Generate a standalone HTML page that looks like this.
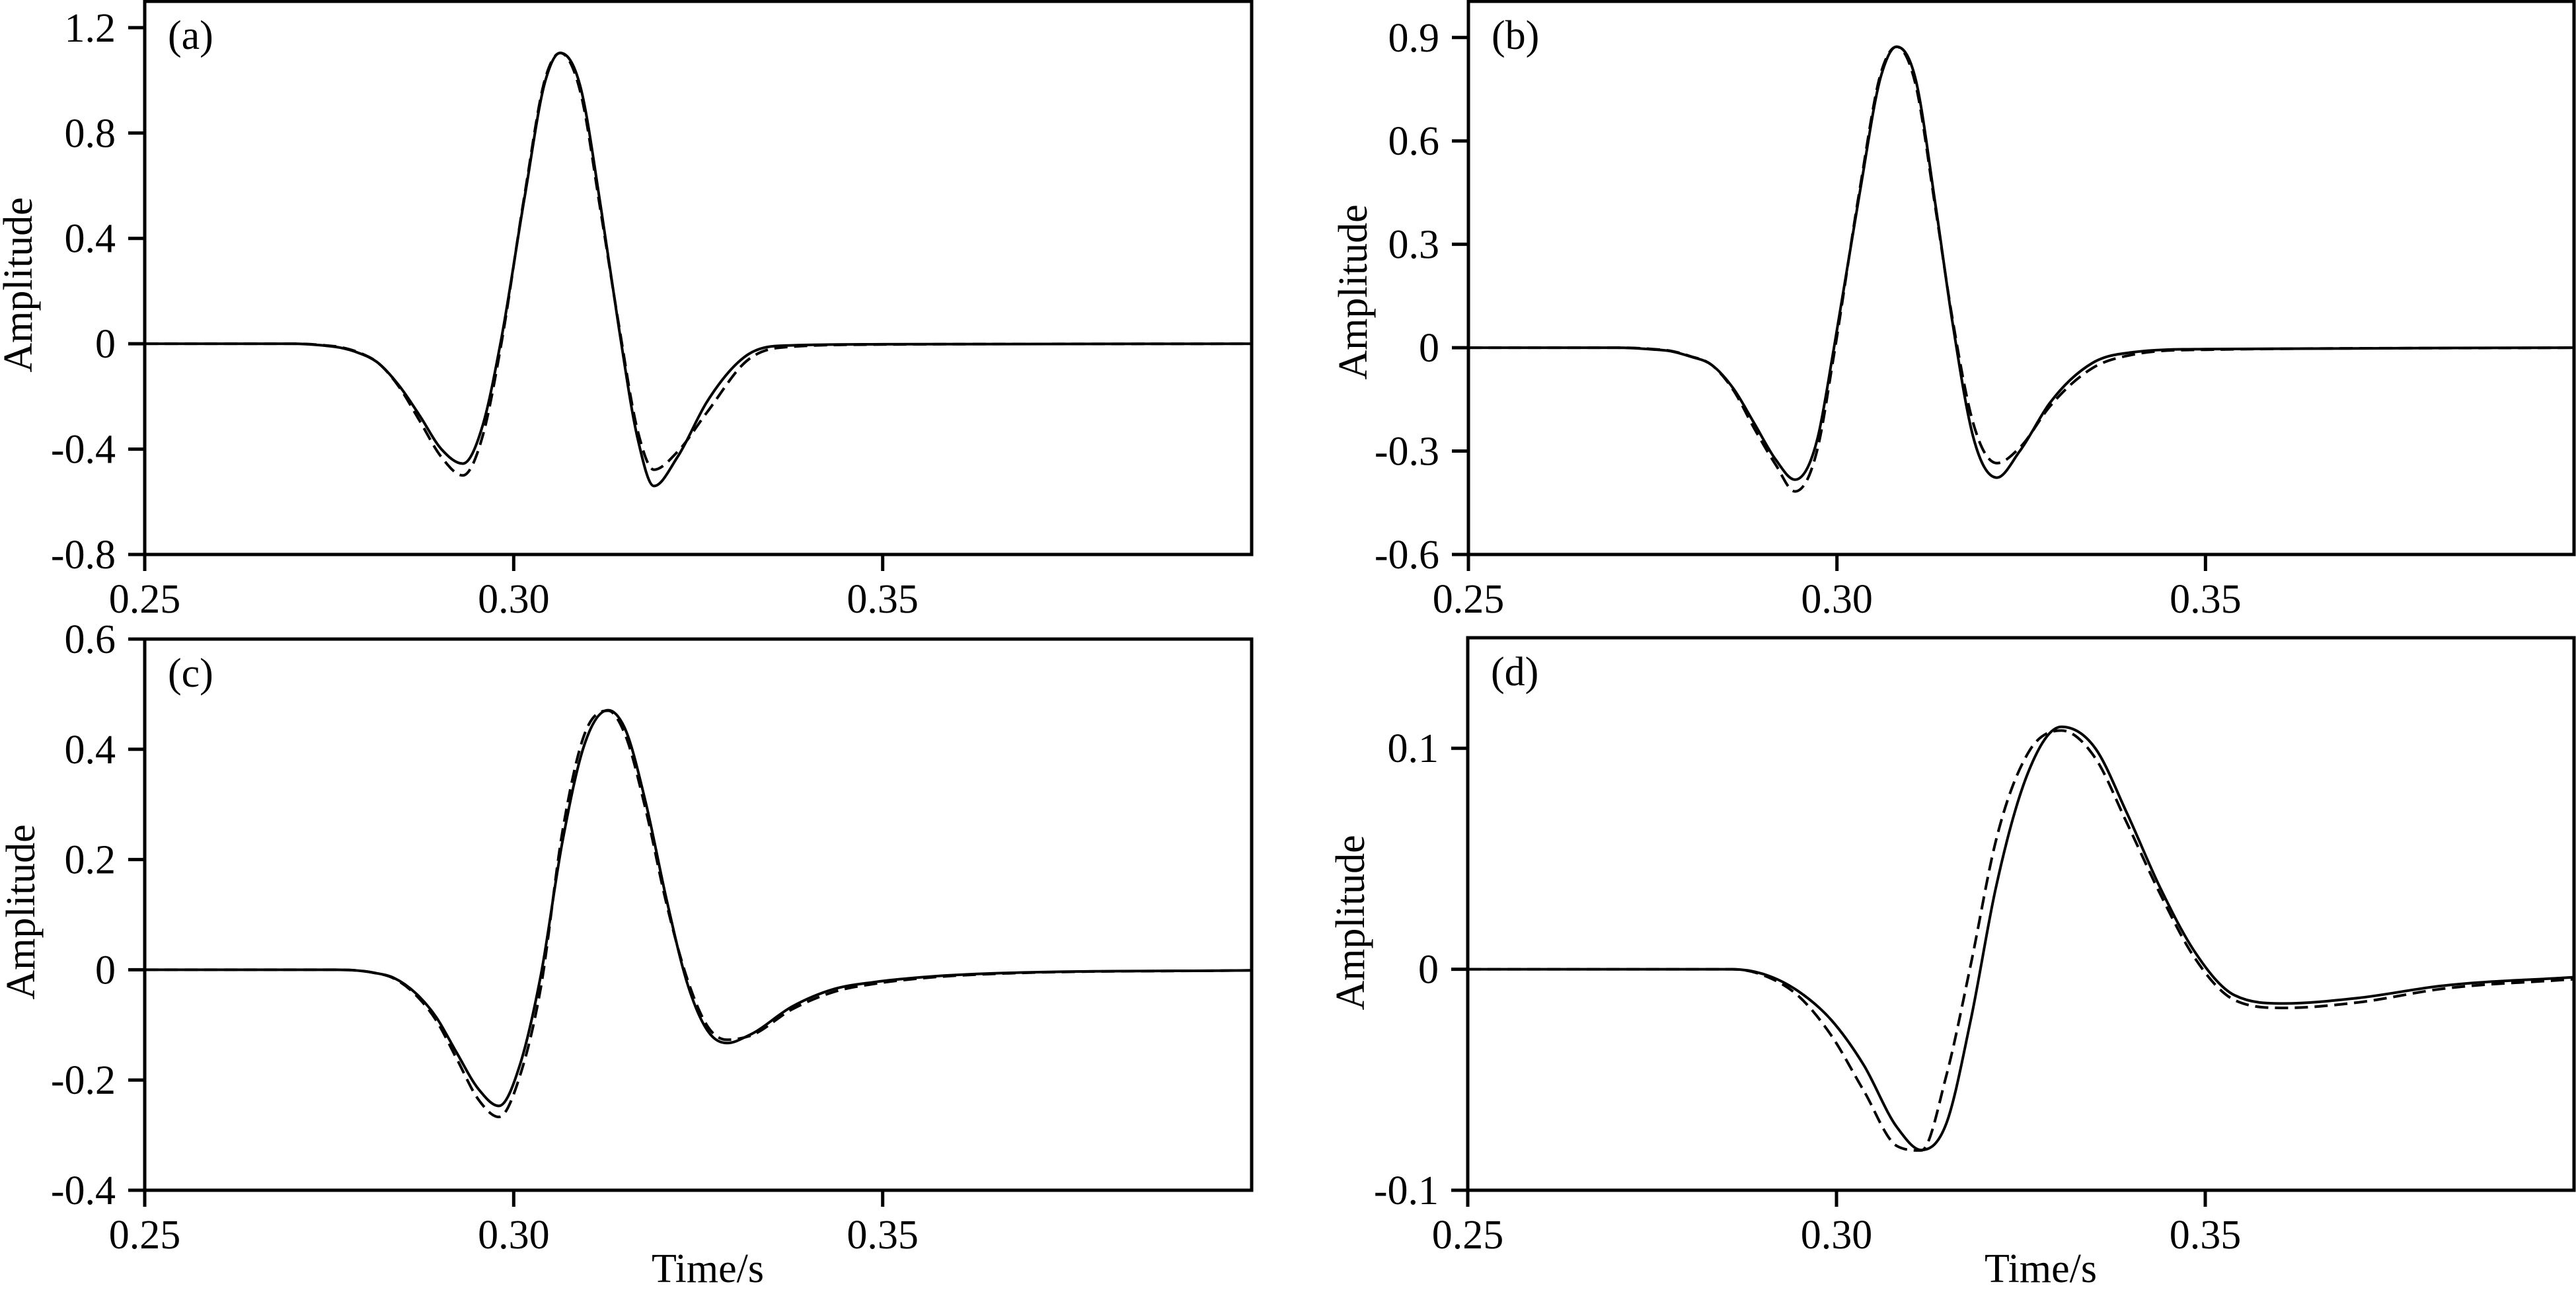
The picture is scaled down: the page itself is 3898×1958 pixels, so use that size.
<!DOCTYPE html>
<html><head><meta charset="utf-8"><style>
html,body{margin:0;padding:0;background:#fff}
svg{display:block}
text{font-family:"Liberation Serif",serif;fill:#000}
</style></head><body>
<svg id="fig" width="3898" height="1958" viewBox="0 0 3898 1958" xmlns="http://www.w3.org/2000/svg"></svg>
<script>
const xTicks=[0.25,0.30,0.35];
const xTickLabels=["0.25","0.30","0.35"];
// panel (a)
const tA=[0.25,0.27,0.274,0.2765,0.279,0.2815,0.2845,0.2872,0.2902,0.2931,0.2958,0.2982,0.3015,0.3043,0.3063,0.309,0.3118,0.3142,0.3168,0.319,0.3222,0.3262,0.3318,0.336,0.35,0.40];
const sA=[0,0,-0.006,-0.015,-0.035,-0.07,-0.16,-0.27,-0.40,-0.455,-0.31,0,0.56,1.0,1.104,0.98,0.52,0.07,-0.36,-0.54,-0.43,-0.22,-0.04,-0.008,-0.002,0];
const dA=[0,0,-0.005,-0.013,-0.033,-0.07,-0.165,-0.29,-0.43,-0.50,-0.35,-0.02,0.57,1.01,1.104,0.96,0.50,0.08,-0.33,-0.478,-0.41,-0.26,-0.06,-0.015,-0.003,0];
const yTicksA=[-0.8,-0.4,0,0.4,0.8,1.2];
const yLabelsA=["-0.8","-0.4","0","0.4","0.8","1.2"];
// panel (b)
const tB=[0.25,0.270,0.275,0.2774,0.280,0.283,0.286,0.2888,0.2917,0.2943,0.2974,0.2996,0.3031,0.306,0.3081,0.3106,0.3134,0.3157,0.3185,0.3217,0.3248,0.3289,0.3346,0.3402,0.35,0.40];
const sB=[0,0,-0.005,-0.01,-0.025,-0.05,-0.12,-0.22,-0.325,-0.383,-0.26,0,0.45,0.79,0.873,0.785,0.41,0.07,-0.26,-0.377,-0.30,-0.16,-0.045,-0.013,-0.004,0];
const dB=[0,0,-0.004,-0.009,-0.024,-0.05,-0.125,-0.235,-0.34,-0.417,-0.29,-0.02,0.46,0.80,0.873,0.77,0.40,0.08,-0.22,-0.335,-0.29,-0.17,-0.06,-0.02,-0.006,0];
const yTicksB=[-0.6,-0.3,0,0.3,0.6,0.9];
const yLabelsB=["-0.6","-0.3","0","0.3","0.6","0.9"];
// panel (c)
const tC=[0.25,0.2752,0.2809,0.2838,0.2866,0.2895,0.2923,0.2952,0.298,0.3009,0.3037,0.3066,0.3094,0.3128,0.315,0.3179,0.3207,0.3236,0.3264,0.3289,0.332,0.3377,0.3434,0.3491,0.3548,0.3639,0.40];
const sC=[0,0,-0.005,-0.015,-0.041,-0.086,-0.151,-0.216,-0.247,-0.17,-0.008,0.232,0.401,0.471,0.44,0.303,0.128,-0.028,-0.113,-0.133,-0.118,-0.067,-0.035,-0.022,-0.014,-0.007,-0.001];
const dC=[0,0,-0.005,-0.016,-0.044,-0.092,-0.162,-0.235,-0.267,-0.19,-0.03,0.25,0.42,0.47,0.43,0.29,0.12,-0.02,-0.105,-0.127,-0.12,-0.072,-0.04,-0.025,-0.016,-0.008,-0.001];
const yTicksC=[-0.4,-0.2,0,0.2,0.4,0.6];
const yLabelsC=["-0.4","-0.2","0","0.2","0.4","0.6"];
// panel (d)
const tD=[0.25,0.2859,0.2903,0.2948,0.2993,0.3037,0.3082,0.3115,0.3149,0.3182,0.3216,0.326,0.3305,0.335,0.3394,0.3439,0.3484,0.354,0.3607,0.3707,0.3818,0.40];
const sD=[0,0,-0.0024,-0.0099,-0.023,-0.0434,-0.0715,-0.0818,-0.0697,-0.023,0.0368,0.0892,0.1097,0.1004,0.0705,0.0368,0.0088,-0.0118,-0.0155,-0.013,-0.0076,-0.0036];
const dD=[0,0,-0.003,-0.012,-0.03,-0.055,-0.080,-0.082,-0.048,0.002,0.058,0.098,0.108,0.096,0.066,0.034,0.006,-0.014,-0.0175,-0.015,-0.009,-0.0045];
const yTicksD=[-0.1,0,0.1];
const yLabelsD=["-0.1","0","0.1"];

const NS="http://www.w3.org/2000/svg";
const svg=document.getElementById('fig');
function mk(tag,attrs,parent){const e=document.createElementNS(NS,tag);for(const k in attrs)e.setAttribute(k,attrs[k]);(parent||svg).appendChild(e);return e;}
// Bessel-slope cubic Hermite with monotonicity clamp
function smooth(pts){
 const n=pts.length,dx=[],sl=[],m=[];
 for(let i=0;i<n-1;i++){dx[i]=pts[i+1][0]-pts[i][0];sl[i]=(pts[i+1][1]-pts[i][1])/dx[i];}
 m[0]=sl[0];m[n-1]=sl[n-2];
 for(let i=1;i<n-1;i++){
  if(sl[i-1]*sl[i]<=0)m[i]=0;
  else{m[i]=(sl[i-1]*dx[i]+sl[i]*dx[i-1])/(dx[i-1]+dx[i]);
   const lim=3*Math.min(Math.abs(sl[i-1]),Math.abs(sl[i]));
   if(Math.abs(m[i])>lim)m[i]=Math.sign(m[i])*lim;}
 }
 let d="M"+pts[0][0].toFixed(1)+","+pts[0][1].toFixed(1);
 for(let i=0;i<n-1;i++){const h=dx[i]/3;
  d+="C"+(pts[i][0]+h).toFixed(1)+","+(pts[i][1]+m[i]*h).toFixed(1)+" "+(pts[i+1][0]-h).toFixed(1)+","+(pts[i+1][1]-m[i+1]*h).toFixed(1)+" "+pts[i+1][0].toFixed(1)+","+pts[i+1][1].toFixed(1);}
 return d;}
function panel(cfg){
 const g=mk('g',{});
 
 
 const X=t=>cfg.x0+(t-0.25)/(0.40-0.25)*(cfg.x1-cfg.x0);
 const Y=v=>cfg.y1-(v-cfg.ymin)/(cfg.ymax-cfg.ymin)*(cfg.y1-cfg.y0);
 const frame=mk('rect',{x:cfg.x0,y:cfg.y0,width:cfg.x1-cfg.x0,height:cfg.y1-cfg.y0,fill:'none',stroke:'#000','stroke-width':5},g);
 
 
 xTicks.forEach((t,i)=>{
  const l=mk('line',{x1:X(t),x2:X(t),y1:cfg.y1,y2:cfg.y1+25,stroke:'#000','stroke-width':5},g);
  
  
  const tx=mk('text',{x:X(t),y:cfg.y1+88,'font-size':62,'text-anchor':'middle'},g);tx.textContent=xTickLabels[i];
  
  
 });
 cfg.yt.forEach((v,i)=>{
  const l=mk('line',{x1:cfg.x0-25,x2:cfg.x0,y1:Y(v),y2:Y(v),stroke:'#000','stroke-width':5},g);
  
  
  const tx=mk('text',{x:cfg.x0-44,y:Y(v)+21,'font-size':62,'text-anchor':'end'},g);tx.textContent=cfg.yl[i];
  
  
 });
 const yt=mk('text',{x:0,y:0,'font-size':62,'text-anchor':'middle',transform:`translate(${cfg.ax},${cfg.ay}) rotate(-90)`},g);yt.textContent='Amplitude';
 
 
 const pl=mk('text',{x:cfg.x0+35,y:cfg.y0+72,'font-size':62},g);pl.textContent='('+cfg.id+')';
 
 
 if(cfg.time){const tt=mk('text',{x:cfg.tx,y:1940,'font-size':62,'text-anchor':'middle'},g);tt.textContent='Time/s';
  
  }
 const dp=mk('path',{d:smooth(cfg.t.map((t,i)=>[X(t),Y(cfg.d[i])])),fill:'none',stroke:'#000','stroke-width':4,'stroke-dasharray':'20 10'},g);
 
 
 const sp=mk('path',{d:smooth(cfg.t.map((t,i)=>[X(t),Y(cfg.s[i])])),fill:'none',stroke:'#000','stroke-width':4},g);
 
 
}
panel({id:'a',x0:219,x1:1894,y0:2,y1:839,ymin:-0.8,ymax:1.3,yt:yTicksA,yl:yLabelsA,t:tA,s:sA,d:dA,ax:48,ay:431});
panel({id:'b',x0:2222,x1:3895,y0:2,y1:839,ymin:-0.6,ymax:1.005,yt:yTicksB,yl:yLabelsB,t:tB,s:sB,d:dB,ax:2068,ay:442});
panel({id:'c',x0:219,x1:1894,y0:967,y1:1801,ymin:-0.4,ymax:0.6,yt:yTicksC,yl:yLabelsC,t:tC,s:sC,d:dC,ax:52,ay:1380,time:true,tx:1071});
panel({id:'d',x0:2221,x1:3895,y0:965,y1:1801,ymin:-0.1,ymax:0.15,yt:yTicksD,yl:yLabelsD,t:tD,s:sD,d:dD,ax:2064,ay:1396,time:true,tx:3088});
</script>
</body></html>
